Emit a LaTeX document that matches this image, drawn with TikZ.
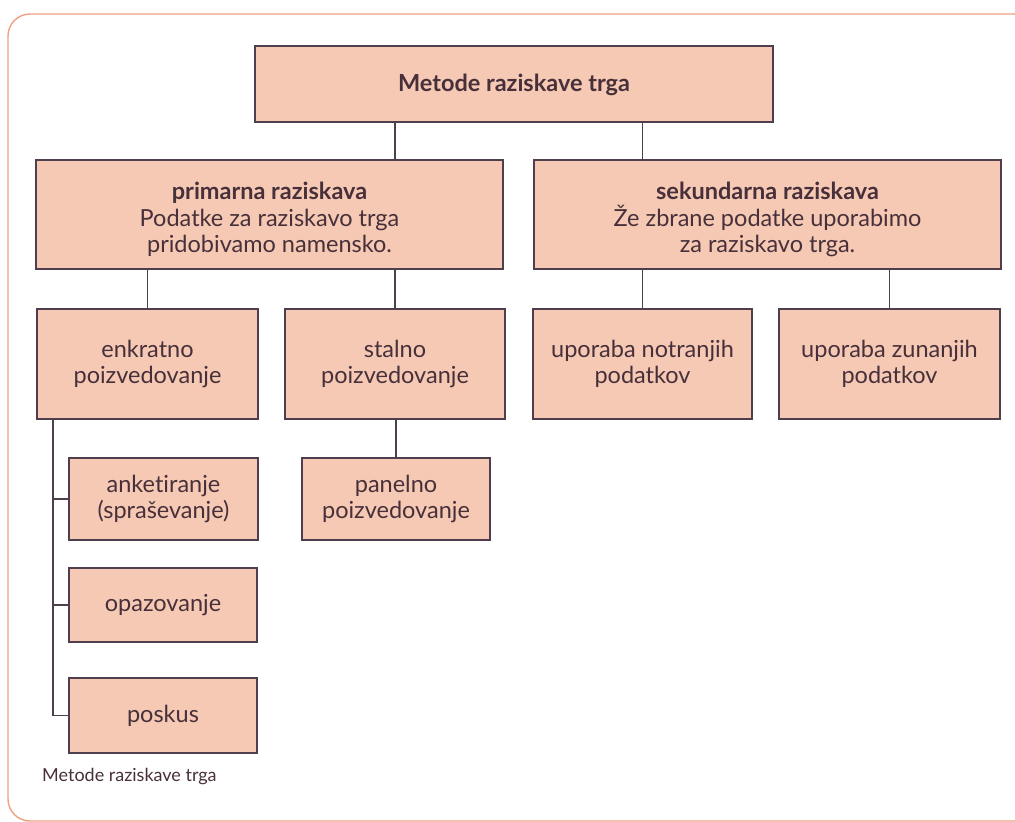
\documentclass[tikz,border=0pt]{standalone}
\usepackage{fontspec}
\setmainfont{Lato}[Ligatures={NoCommon}]
\definecolor{boxfill}{RGB}{245,201,180}
\definecolor{boxline}{RGB}{78,62,78}
\definecolor{txt}{RGB}{72,48,58}
\definecolor{frame}{RGB}{240,160,128}
\tikzset{
  box/.style={draw=boxline, line width=1.6pt, fill=boxfill, text=txt,
    align=center, inner sep=0pt, font=\fontsize{23.5}{26.5}\selectfont},
  conn/.style={draw=boxline, line width=1.4pt},
}
\begin{document}
\begin{tikzpicture}[x=1pt,y=-1pt]
\useasboundingbox (0,0) rectangle (1015,822);
\begin{scope}
\clip (0,0) rectangle (1015,822);
\draw[frame, line width=1.4pt, rounded corners=22pt] (8,14) rectangle (1036,821);
\end{scope}

\node[box, minimum width=518pt, minimum height=76pt] (top) at (514,84) {\rule{0pt}{20pt}\textbf{Metode raziskave trga}};
\node[box, minimum width=467pt, minimum height=109pt] (prim) at (269.5,214.5) {\rule{0pt}{28pt}\textbf{primarna raziskava}\\Podatke za raziskavo trga\\pridobivamo namensko.};
\node[box, minimum width=467pt, minimum height=109pt] (sek) at (767.5,214.5) {\rule{0pt}{28pt}\textbf{sekundarna raziskava}\\Že zbrane podatke uporabimo\\za raziskavo trga.};
\node[box, minimum width=221pt, minimum height=110pt] (enk) at (147.5,364) {enkratno\\poizvedovanje};
\node[box, minimum width=220pt, minimum height=110pt] (stal) at (395,364) {stalno\\poizvedovanje};
\node[box, minimum width=219pt, minimum height=110pt] (notr) at (642.5,364) {uporaba notranjih\\podatkov};
\node[box, minimum width=221pt, minimum height=110pt] (zun) at (889.5,364) {uporaba zunanjih\\podatkov};
\node[box, minimum width=189pt, minimum height=82pt] (anke) at (163.5,499) {anketiranje\\(spraševanje)};
\node[box, minimum width=188pt, minimum height=82pt] (pan) at (396,499) {panelno\\poizvedovanje};
\node[box, minimum width=188pt, minimum height=74pt] (opaz) at (163,605) {opazovanje};
\node[box, minimum width=188pt, minimum height=75pt] (posk) at (163,715.5) {poskus};

\coordinate (spine) at (53,0);

\draw[conn] (top.south -| stal.north) -- (prim.north -| stal.north);
\draw[conn] (top.south -| notr.north) -- (sek.north -| notr.north);
\draw[conn] (prim.south -| enk.north) -- (enk.north);
\draw[conn] (prim.south -| stal.north) -- (stal.north);
\draw[conn] (sek.south -| notr.north) -- (notr.north);
\draw[conn] (sek.south -| zun.north) -- (zun.north);
\draw[conn] (stal.south -| pan.north) -- (pan.north);
\draw[conn] (enk.south -| spine) |- (posk.west);
\draw[conn] (spine |- anke.west) -- (anke.west);
\draw[conn] (spine |- opaz.west) -- (opaz.west);

\node[anchor=west, text=txt, font=\fontsize{18}{21}\selectfont, inner sep=0pt] (cap) at (42,777) {Metode raziskave trga};
\end{tikzpicture}
\end{document}
